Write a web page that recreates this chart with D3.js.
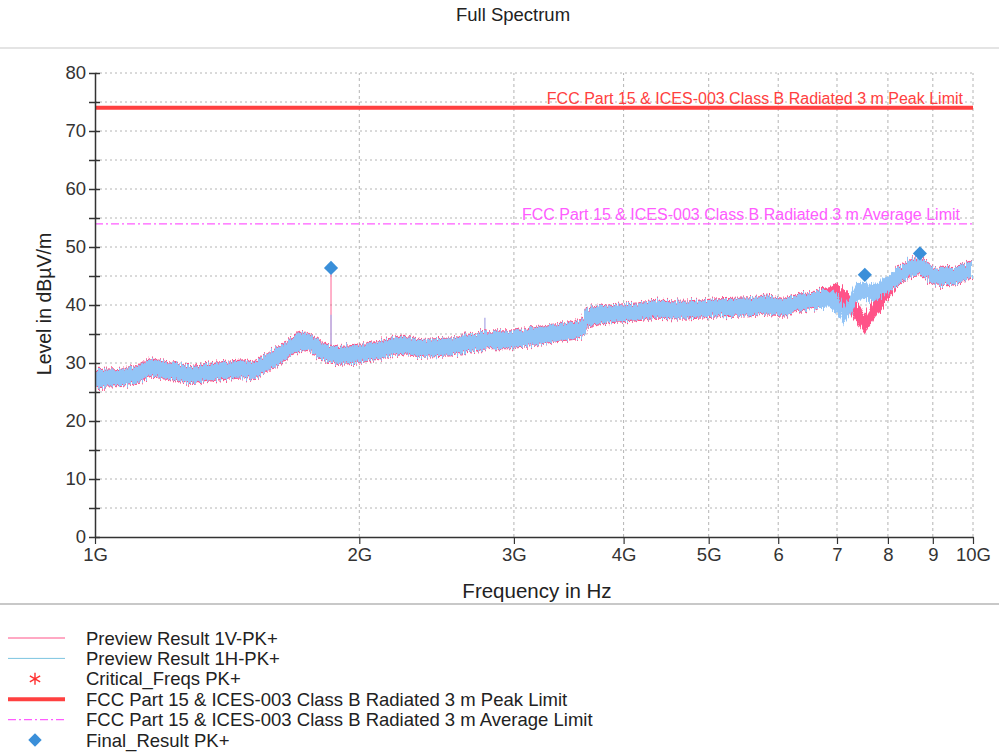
<!DOCTYPE html>
<html>
<head>
<meta charset="utf-8">
<script src="https://cdn.jsdelivr.net/npm/d3@7"></script>
<style>
  body { margin: 0; background: #fff; }
  svg { display: block; font-family: "Liberation Sans", Arial, sans-serif; }
</style>
</head>
<body>
<svg id="chart"></svg>
<script>
const freqGHz = [1.000, 1.068, 1.116, 1.155, 1.176, 1.233, 1.283, 1.377, 1.475, 1.514,
  1.582, 1.637, 1.712, 1.758, 1.818, 1.886, 1.988, 2.095, 2.243, 2.345,
  2.557, 2.796, 2.993, 3.272, 3.540, 3.600, 3.634, 3.860, 4.143, 4.366,
  4.674, 5.110, 5.572, 5.826, 6.076, 6.353, 6.642, 6.872, 7.000, 7.111,
  7.243, 7.378, 7.534, 7.693, 7.897, 8.191, 8.477, 8.705, 8.866, 9.006,
  9.414, 9.665, 10.0];
// Preview Result 1V-PK+ (dBµV/m)
const level1V = [27.3, 27.5, 28.0, 29.2, 29.0, 28.5, 28.0, 28.6, 29.0, 28.6,
  30.3, 31.8, 33.8, 33.4, 32.0, 31.3, 31.5, 32.2, 33.2, 32.5,
  32.8, 34.0, 34.0, 35.0, 35.7, 36.2, 38.0, 38.5, 38.8, 39.3,
  39.1, 39.5, 39.7, 40.0, 39.6, 40.5, 40.9, 41.5, 42.0, 41.0,
  40.3, 38.6, 36.5, 39.0, 41.3, 44.8, 46.3, 46.8, 46.0, 45.0,
  44.9, 45.3, 46.3];
// Preview Result 1H-PK+ (dBµV/m)
const level1H = [27.3, 27.5, 28.0, 29.2, 29.0, 28.5, 28.0, 28.6, 29.0, 28.6,
  30.3, 31.8, 33.8, 33.4, 32.0, 31.3, 31.5, 32.2, 33.2, 32.5,
  32.8, 34.0, 34.0, 35.0, 35.7, 36.2, 38.0, 38.5, 38.8, 39.3,
  39.1, 39.5, 39.7, 40.0, 39.6, 40.5, 40.9, 41.0, 40.3, 38.2,
  39.8, 42.3, 42.5, 42.0, 43.0, 44.8, 46.3, 46.8, 46.0, 45.0,
  44.9, 45.3, 46.3];
// narrow spikes sticking out of the traces
const spikeGHz = [1.857, 2.78];
const spikeBase = [31.5, 34.2];
const spike1V = [46.4, 34.8];
const spike1H = [38.3, 37.8];
// Final_Result PK+
const finalGHz = [1.857, 7.53, 8.70];
const finalLevel = [46.4, 45.2, 48.9];
// limits
const peakLimit = 74;
const avgLimit = 54;
const peakLabel = "FCC Part 15 & ICES-003 Class B Radiated 3 m Peak Limit";
const avgLabel = "FCC Part 15 & ICES-003 Class B Radiated 3 m Average Limit";
// axes
const xTickGHz = [1, 2, 3, 4, 5, 6, 7, 8, 9, 10];
const xTickLabels = ["1G", "2G", "3G", "4G", "5G", "6", "7", "8", "9", "10G"];
const yTicks = [0, 5, 10, 15, 20, 25, 30, 35, 40, 45, 50, 55, 60, 65, 70, 75, 80];
const yTickLabels = ["0", "", "10", "", "20", "", "30", "", "40", "", "50", "", "60", "", "70", "", "80"];
const legendLabels = [
  "Preview Result 1V-PK+",
  "Preview Result 1H-PK+",
  "Critical_Freqs PK+",
  "FCC Part 15 & ICES-003 Class B Radiated 3 m Peak Limit",
  "FCC Part 15 & ICES-003 Class B Radiated 3 m Average Limit",
  "Final_Result PK+"
];

const width = 999, height = 753;
const margin = { top: 73, right: 26, bottom: 216, left: 95 };
const colV = "#ff5288", colH = "#92c4f6", colPeak = "#ff4040", colAvg = "#ff5cff", colFinal = "#3a8fd9";

const svg = d3.select("#chart").attr("width", width).attr("height", height);

const defs = svg.append("defs");
const jag = defs.append("filter").attr("id", "jag")
  .attr("x", "-2%").attr("y", "-40%").attr("width", "104%").attr("height", "180%");
jag.append("feTurbulence").attr("type", "fractalNoise")
  .attr("baseFrequency", "0.8 0.05").attr("numOctaves", 2).attr("seed", 4).attr("result", "n");
jag.append("feDisplacementMap").attr("in", "SourceGraphic").attr("in2", "n")
  .attr("scale", 11).attr("xChannelSelector", "G").attr("yChannelSelector", "R");
const clip = defs.append("clipPath").attr("id", "plotclip");

const x = d3.scaleLog().domain([1, 10]).range([margin.left, width - margin.right]);
const y = d3.scaleLinear().domain([0, 80]).range([height - margin.bottom, margin.top]);
clip.append("rect").attr("x", x(1)).attr("y", y(80)).attr("width", x(10) - x(1)).attr("height", y(0) - y(80));

// title and separators
svg.append("text").attr("x", 513).attr("y", 21).attr("text-anchor", "middle")
  .attr("font-size", 18.5).attr("fill", "#222").text("Full Spectrum");
svg.append("line").attr("x1", 0).attr("x2", width).attr("y1", 48).attr("y2", 48)
  .attr("stroke", "#e4e4e4").attr("stroke-width", 2);
svg.append("line").attr("x1", 0).attr("x2", width).attr("y1", 604).attr("y2", 604)
  .attr("stroke", "#c8c8c8").attr("stroke-width", 2);

// grid
const grid = svg.append("g");
grid.selectAll(".hg").data(yTicks.filter(d => d > 0)).enter().append("line")
  .attr("x1", x(1)).attr("x2", x(10)).attr("y1", d => y(d)).attr("y2", d => y(d))
  .attr("stroke", "#b4b4b4").attr("stroke-dasharray", "2,3");
grid.selectAll(".vg").data(xTickGHz.slice(1)).enter().append("line")
  .attr("x1", d => x(d)).attr("x2", d => x(d)).attr("y1", y(0)).attr("y2", y(80))
  .attr("stroke", "#b4b4b4").attr("stroke-dasharray", "3,3");

// limit lines
svg.append("line").attr("x1", x(1)).attr("x2", x(10)).attr("y1", y(peakLimit)).attr("y2", y(peakLimit))
  .attr("stroke", colPeak).attr("stroke-width", 4);
svg.append("text").attr("x", 963).attr("y", y(peakLimit) - 4).attr("text-anchor", "end")
  .attr("font-size", 16).attr("fill", colPeak).text(peakLabel);
svg.append("line").attr("x1", x(1)).attr("x2", x(10)).attr("y1", y(avgLimit)).attr("y2", y(avgLimit))
  .attr("stroke", colAvg).attr("stroke-width", 1.2).attr("stroke-dasharray", "8,3,2,3");
svg.append("text").attr("x", 960).attr("y", y(avgLimit) - 4).attr("text-anchor", "end")
  .attr("font-size", 16).attr("fill", colAvg).text(avgLabel);

// traces
const band = spread => d3.area()
  .x(d => x(d.f))
  .y0(d => y(d.v - spread))
  .y1(d => y(d.v + spread));
const dataV = freqGHz.map((f, i) => ({ f, v: level1V[i] }));
const dataH = freqGHz.map((f, i) => ({ f, v: level1H[i] }));

// spikes
spikeGHz.forEach((f, i) => {
  svg.append("line").attr("x1", x(f)).attr("x2", x(f))
    .attr("y1", y(spikeBase[i])).attr("y2", y(spike1V[i]))
    .attr("stroke", colV).attr("stroke-width", 1.5).attr("opacity", 0.6);
  svg.append("line").attr("x1", x(f)).attr("x2", x(f))
    .attr("y1", y(spikeBase[i])).attr("y2", y(spike1H[i]))
    .attr("stroke", "#b9b6ea").attr("stroke-width", 1.5);
});

const traces = svg.append("g").attr("clip-path", "url(#plotclip)");
traces.append("path").datum(dataV).attr("d", band(1.65)).attr("fill", colV).attr("filter", "url(#jag)");
traces.append("path").datum(dataH).attr("d", band(1.45)).attr("fill", colH).attr("filter", "url(#jag)");

// final result diamonds
svg.selectAll(".fin").data(finalGHz).enter().append("path")
  .attr("d", d3.symbol().type(d3.symbolSquare).size(100))
  .attr("transform", (d, i) => `translate(${x(d)},${y(finalLevel[i])}) rotate(45)`)
  .attr("fill", colFinal);

// axes
const yAxis = svg.append("g").attr("transform", `translate(${margin.left},0)`)
  .call(d3.axisLeft(y).tickValues(yTicks).tickFormat((d, i) => yTickLabels[i]).tickSizeOuter(0).tickSizeInner(6).tickPadding(3));
yAxis.select(".domain").attr("stroke", "#333").attr("stroke-width", 1.5);
yAxis.selectAll(".tick line").attr("x1", 5).attr("x2", -6).attr("stroke", "#333").attr("stroke-width", 1.5);
yAxis.selectAll("text").attr("font-size", 18.5).attr("fill", "#333").attr("font-family", "Liberation Sans, Arial, sans-serif");

const xAxis = svg.append("g").attr("transform", `translate(0,${y(0)})`)
  .call(d3.axisBottom(x).tickValues(xTickGHz).tickFormat((d, i) => xTickLabels[i]).tickSizeOuter(0).tickSizeInner(7).tickPadding(4));
xAxis.select(".domain").attr("stroke", "#333").attr("stroke-width", 1.5);
xAxis.selectAll(".tick line").attr("stroke", "#333").attr("stroke-width", 1.2);
xAxis.selectAll("text").attr("font-size", 18.5).attr("fill", "#333").attr("font-family", "Liberation Sans, Arial, sans-serif");

svg.append("text").attr("x", 537).attr("y", 598).attr("text-anchor", "middle")
  .attr("font-size", 20.5).attr("fill", "#222").text("Frequency in Hz");
svg.append("text").attr("transform", `translate(51,${y(40) - 1}) rotate(-90)`)
  .attr("text-anchor", "middle").attr("font-size", 19.5).attr("fill", "#222").text("Level in dBµV/m");

// legend
const legend = svg.append("g");
const rowY = i => 638 + i * 20.4;
legend.selectAll("text").data(legendLabels).enter().append("text")
  .attr("x", 86).attr("y", (d, i) => rowY(i)).attr("dy", "0.36em")
  .attr("font-size", 18.5).attr("fill", "#222").text(d => d);
legend.append("line").attr("x1", 8).attr("x2", 65).attr("y1", rowY(0)).attr("y2", rowY(0))
  .attr("stroke", colV).attr("stroke-width", 1);
legend.append("line").attr("x1", 8).attr("x2", 65).attr("y1", rowY(1)).attr("y2", rowY(1))
  .attr("stroke", "#7cc4e0").attr("stroke-width", 1);
legend.append("path").attr("d", d3.symbol().type(d3.symbolAsterisk).size(100))
  .attr("transform", `translate(35,${rowY(2)})`).attr("stroke", "#ff3030").attr("stroke-width", 1.4).attr("fill", "none");
legend.append("line").attr("x1", 8).attr("x2", 65).attr("y1", rowY(3)).attr("y2", rowY(3))
  .attr("stroke", colPeak).attr("stroke-width", 4);
legend.append("line").attr("x1", 8).attr("x2", 65).attr("y1", rowY(4)).attr("y2", rowY(4))
  .attr("stroke", colAvg).attr("stroke-width", 1.2).attr("stroke-dasharray", "8,3,2,3");
legend.append("path").attr("d", d3.symbol().type(d3.symbolSquare).size(90))
  .attr("transform", `translate(35,${rowY(5)}) rotate(45)`).attr("fill", colFinal);
</script>
</body>
</html>
